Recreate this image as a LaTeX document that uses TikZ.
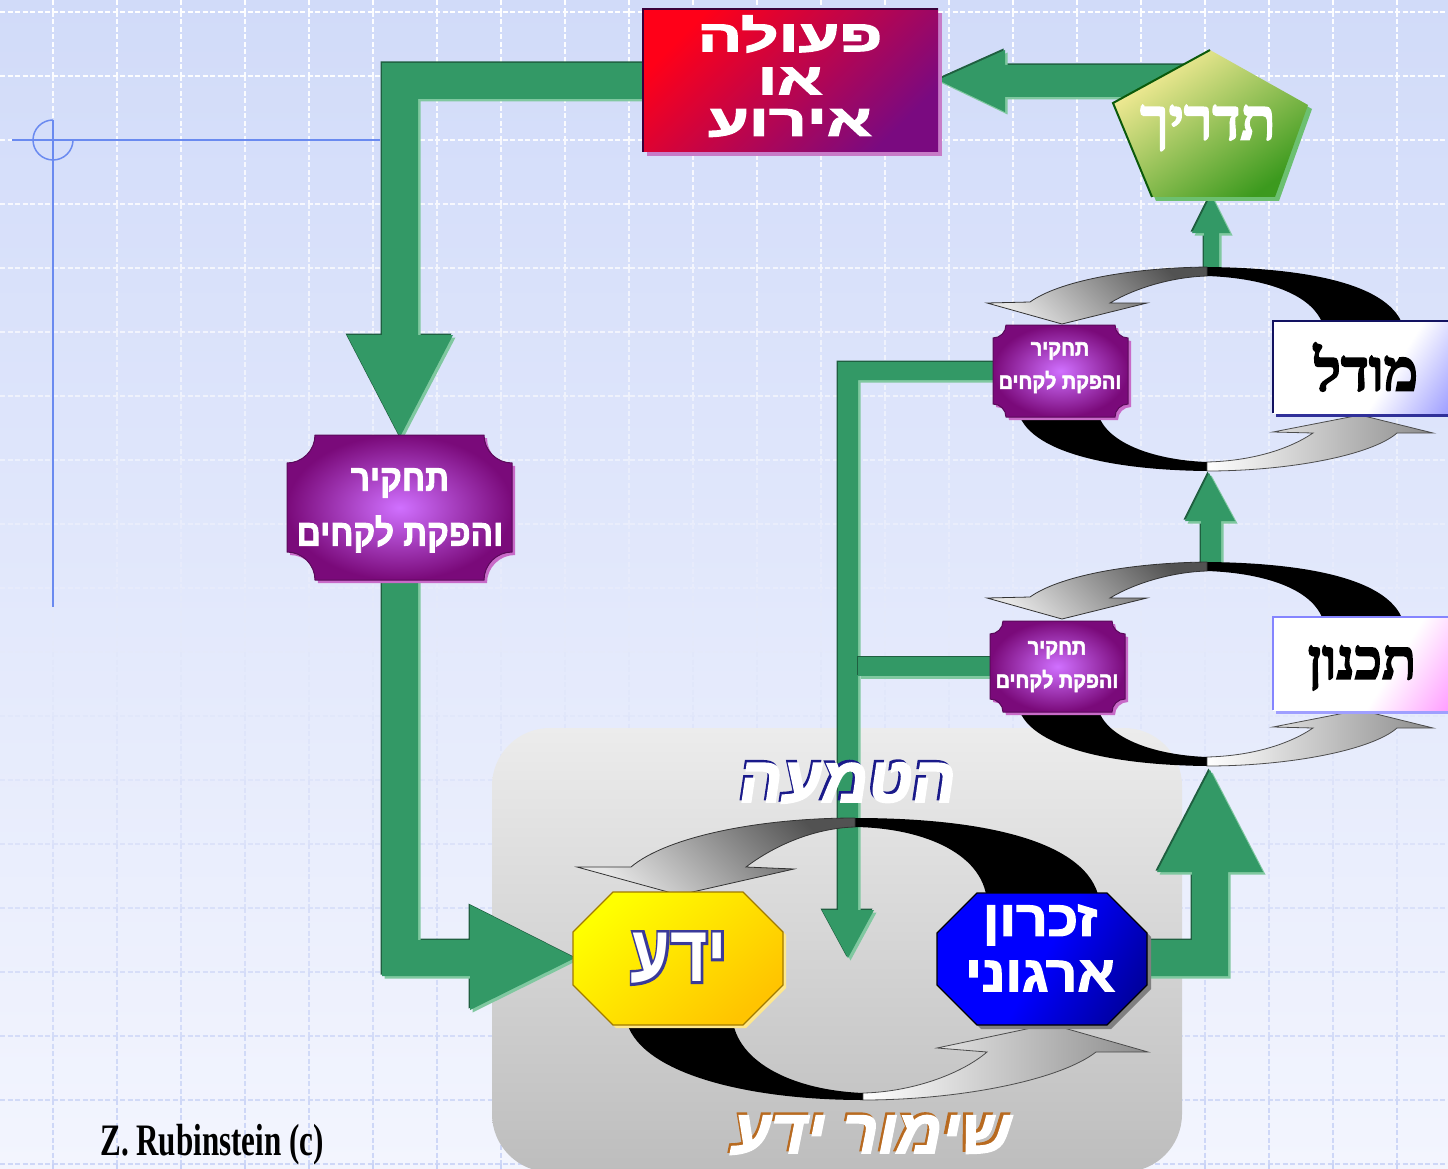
\documentclass[tikz,border=0pt]{standalone}
\usepackage{fontspec}
\usepackage{graphicx}
\TeXXeTstate=1
\newfontfamily\hebsans[Script=Hebrew]{Liberation Sans}
\newfontfamily\hebheavy[Script=Hebrew, FakeBold=2.5]{Liberation Sans}
\newfontfamily\hebout[Script=Hebrew, FakeBold=7]{Liberation Sans}
\newfontfamily\hebserif[Script=Hebrew, FakeBold=3]{Liberation Serif}
\newfontfamily\latserif{Liberation Serif}
\newcommand\heb[1]{\beginR#1\endR}
\definecolor{bgtop}{HTML}{D1DBF9}
\definecolor{bgbot}{HTML}{F3F5FE}
\definecolor{gridbot}{HTML}{C9D3F6}
\definecolor{crossc}{HTML}{6A8AF0}
\definecolor{grn}{HTML}{339966}
\definecolor{glight}{HTML}{80C8A0}
\definecolor{gdark}{HTML}{1F5F40}
\definecolor{redA}{HTML}{FF0018}
\definecolor{redB}{HTML}{7A0A80}
\definecolor{redS}{HTML}{C77BC7}
\definecolor{redE}{HTML}{3A003A}
\definecolor{penA}{HTML}{FBEE9A}
\definecolor{penB}{HTML}{3C9A1E}
\definecolor{penE}{HTML}{0B5A0B}
\definecolor{penS}{HTML}{6CC070}
\definecolor{purA}{HTML}{D070FF}
\definecolor{purB}{HTML}{7A0A7A}
\definecolor{purE}{HTML}{5A0A5A}
\definecolor{purS}{HTML}{C86AC8}
\definecolor{yelA}{HTML}{FFFF00}
\definecolor{yelB}{HTML}{FFC400}
\definecolor{yelE}{HTML}{A07A00}
\definecolor{yelS}{HTML}{FFE88A}
\definecolor{bluA}{HTML}{0000FF}
\definecolor{bluB}{HTML}{000050}
\definecolor{bluS}{HTML}{808080}
\definecolor{greyA}{HTML}{ECECEC}
\definecolor{greyB}{HTML}{BDBDBD}
\definecolor{modB}{HTML}{5050FF}
\definecolor{tikB}{HTML}{FF50FF}
\definecolor{navyT}{HTML}{1A1A8A}
\definecolor{ydaline}{HTML}{3A3A9A}
\definecolor{hA}{HTML}{4848F0}
\definecolor{hB}{HTML}{7878E8}
\definecolor{hC}{HTML}{C49CB4}
\definecolor{hD}{HTML}{E8B070}
\definecolor{hE}{HTML}{FFC040}
\definecolor{sA}{HTML}{3838F0}
\definecolor{sB}{HTML}{6A50E0}
\definecolor{sC}{HTML}{9A60D0}
\definecolor{sD}{HTML}{B070C0}
\definecolor{sE}{HTML}{E89060}
\definecolor{sF}{HTML}{F09A40}
\definecolor{sShadow}{HTML}{B86A20}
\pgfdeclarehorizontalshading{modelsh}{100bp}{color(0bp)=(white); color(58bp)=(white); color(100bp)=(modB)}
\pgfdeclarehorizontalshading{tiksh}{100bp}{color(0bp)=(white); color(58bp)=(white); color(100bp)=(tikB)}
\pgfdeclarehorizontalshading{blush}{100bp}{color(0bp)=(bluA); color(50bp)=(bluA); color(100bp)=(bluB)}
\tikzset{
  gridl/.style={line width=1.4pt, dash pattern=on 5pt off 2.5pt},
  crossl/.style={draw=crossc, line width=1.5pt},
  txt/.style={inner sep=0pt, outer sep=0pt},
  wtxt/.style={txt, text=white},
  topgrey/.style={top color=black!68, bottom color=black!10, shading angle=-45, draw=black!80, line width=0.8pt},
  botgrey/.style={left color=white, right color=black!45, draw=black!70, line width=0.8pt},
}
\newcommand\garrow[1]{%
  \fill[gdark, shift={(-1.5,-1.5)}] #1;
  \fill[glight, shift={(2.5,2.5)}] #1;
  \fill[grn] #1;}
\newcommand\plaque[6]{% x1 y1 x2 y2 r options
  \pgfmathsetmacro\pa{#1+#5}\pgfmathsetmacro\pb{#3-#5}%
  \pgfmathsetmacro\pc{#2+#5}\pgfmathsetmacro\pd{#4-#5}%
  \pgfmathsetmacro\ka{0.55*#5}%
  \path[#6] (\pa,#2) -- (\pb,#2) .. controls (\pb,#2+\ka) and (#3-\ka,\pc) .. (#3,\pc)
    -- (#3,\pd) .. controls (#3-\ka,\pd) and (\pb,#4-\ka) .. (\pb,#4)
    -- (\pa,#4) .. controls (\pa,#4-\ka) and (#1+\ka,\pd) .. (#1,\pd)
    -- (#1,\pc) .. controls (#1+\ka,\pc) and (\pa,#2+\ka) .. (\pa,#2) -- cycle;}
\newcommand\octa[6]{% x1 y1 x2 y2 c options
  \path[#6] (#1+#5,#2) -- (#3-#5,#2) -- (#3,#2+#5) -- (#3,#4-#5) -- (#3-#5,#4)
    -- (#1+#5,#4) -- (#1,#4-#5) -- (#1,#2+#5) -- cycle;}
\begin{document}
\begin{tikzpicture}[x=1pt,y=-1pt]
\useasboundingbox (0,0) rectangle (1448,1169);
% background
\shade[top color=bgtop, bottom color=bgbot] (0,0) rectangle (1448,1169);
% grid
\foreach \k in {0,...,18}{
  \pgfmathtruncatemacro\p{100-5*\k}
  \pgfmathsetmacro\yy{12+64*\k}
  \draw[gridl, draw=white!\p!gridbot] (0,\yy) -- (1448,\yy);
  \foreach \j in {0,...,21}{
    \draw[gridl, draw=white!\p!gridbot] ({53+64*\j},{\yy-64}) -- ({53+64*\j},\yy);
  }
}
\foreach \j in {0,...,21}{\draw[gridl, draw=gridbot] ({53+64*\j},1164) -- ({53+64*\j},1172);}
% crosshair
\draw[crossl] (12,140) -- (380,140);
\draw[crossl] (53,120) -- (53,607);
\draw[crossl] (53,120) .. controls (42,120) and (33,129) .. (33,140)
  .. controls (33,151) and (42,160) .. (53,160) .. controls (64,160) and (73,151) .. (73,140);
% grey box
\shade[top color=greyA, bottom color=greyB, rounded corners=58pt] (492,728) rectangle (1182,1172);
% green arrows
\garrow{(1185,65) -- (1005,65) -- (1005,50) -- (938,80) -- (1005,112) -- (1005,97) -- (1185,97) -- cycle}
\garrow{(645,63) -- (382,63) -- (382,335) -- (347,335) -- (400,437) -- (453,335) -- (418,335) -- (418,99) -- (645,99) -- cycle}
\garrow{(382,575) -- (382,976) -- (470,976) -- (470,1010) -- (575,958) -- (470,905) -- (470,940) -- (418,940) -- (418,575) -- cycle}
\garrow{(995,362) -- (838,362) -- (838,910) -- (822,910) -- (848,958) -- (874,910) -- (858,910) -- (858,380) -- (995,380) -- cycle}
\garrow{(858,657) -- (992,657) -- (992,676) -- (858,676) -- cycle}
\garrow{(1204,272) -- (1204,233) -- (1192,233) -- (1211,195) -- (1230,233) -- (1219,233) -- (1219,272) -- cycle}
\garrow{(1201,565) -- (1201,521) -- (1185,521) -- (1209,473) -- (1235,521) -- (1221,521) -- (1221,565) -- cycle}
\garrow{(1145,940) -- (1192,940) -- (1192,872) -- (1157,872) -- (1210,770) -- (1263,872) -- (1228,872) -- (1228,976) -- (1145,976) -- cycle}
% small cycles
\foreach \dy in {0,295}{
\begin{scope}[shift={(0,\dy)}]
\fill[black] (1405,335) .. controls (1400,285) and (1310,268) .. (1207,267) -- (1207,276) .. controls (1265,278) and (1322,295) .. (1325,335) -- cycle;
\shade[topgrey] (1207,267) .. controls (1125,268) and (1058,282) .. (1030,302) -- (987,303) -- (1062,324) -- (1147,303) -- (1110,303) .. controls (1135,288) and (1172,277) .. (1207,276) -- cycle;
\fill[black] (1017,405) .. controls (1020,450) and (1105,470) .. (1207,471) -- (1207,462) .. controls (1150,460) and (1097,440) .. (1097,405) -- cycle;
\shade[botgrey] (1207,471) .. controls (1290,471) and (1372,455) .. (1397,433) -- (1433,433) -- (1360,415) -- (1273,432) -- (1313,433) .. controls (1288,450) and (1250,461) .. (1207,462) -- cycle;
\end{scope}
}
% big cycle
\fill[black] (1100,905) .. controls (1095,845) and (995,818) .. (855,818) -- (855,827) .. controls (925,828) and (987,855) .. (987,905) -- cycle;
\shade[topgrey] (855,818) .. controls (755,818) and (665,838) .. (631,867) -- (577,867) -- (679,895) -- (794,869) -- (746,867) .. controls (775,845) and (815,828) .. (855,827) -- cycle;
\fill[black] (625,1012) .. controls (628,1070) and (740,1100) .. (863,1100) -- (863,1093) .. controls (790,1090) and (732,1060) .. (732,1012) -- cycle;
\shade[botgrey] (863,1100) .. controls (960,1100) and (1060,1080) .. (1096,1052) -- (1148,1052) -- (1050,1024) -- (937,1048) -- (987,1052) .. controls (960,1075) and (910,1092) .. (863,1093) -- cycle;
% red box
\fill[redS] (647,13) rectangle (942,156);
\shade[top color=redA, bottom color=redB, shading angle=45] (643,9) rectangle (938,152);
\draw[redE, line width=2pt] (643,152) -- (643,9) -- (938,9);
% pentagon
\fill[penS] (1214,54) -- (1312,109) -- (1279,201) -- (1156,201) -- (1117,107) -- cycle;
\shade[top color=penA, bottom color=penB, shading angle=35] (1210,50) -- (1308,105) -- (1275,197) -- (1152,197) -- (1113,103) -- cycle;
\draw[penE, line width=2pt] (1152,197) -- (1113,103) -- (1210,50);
% purple plaques
\plaque{290}{438}{515}{583}{28}{fill=purS}
\plaque{287}{435}{512}{580}{28}{inner color=purA, outer color=purB, draw=purE, line width=1pt}
\plaque{996}{328}{1131}{420}{13}{fill=purS}
\plaque{993}{325}{1128}{417}{13}{inner color=purA, outer color=purB, draw=purE, line width=1pt}
\plaque{993}{624}{1128}{715}{13}{fill=purS}
\plaque{990}{621}{1125}{712}{13}{inner color=purA, outer color=purB, draw=purE, line width=1pt}
% model / planning boxes
\fill[black!40!modB] (1276,324) rectangle (1460,417);
\shade[shading=modelsh, shading angle=-32] (1273,321) rectangle (1460,413);
\draw[navyT!70!black, line width=1.5pt] (1273,413) -- (1273,321) -- (1460,321);
\fill[modB!55] (1276,620) rectangle (1460,714);
\shade[shading=tiksh, shading angle=-32] (1273,617) rectangle (1460,710);
\draw[modB!70, line width=1.5pt] (1273,710) -- (1273,617) -- (1460,617);
% octagons
\octa{576}{895}{786}{1028}{40}{fill=yelS}
\octa{573}{892}{783}{1025}{40}{top color=yelA, bottom color=yelB, shading angle=40, draw=yelE, line width=1.2pt}
\octa{941}{897}{1151}{1029}{40}{fill=bluS}
\octa{937}{893}{1147}{1025}{40}{shading=blush, shading angle=-30, draw=black, line width=1.2pt}
% texts
\node[wtxt, font=\hebheavy\bfseries\fontsize{44}{44}\selectfont] (actA) at (790,34) {\scalebox{1.5}[1]{\heb{פעולה}}};
\node[wtxt, font=\hebheavy\bfseries\fontsize{44}{44}\selectfont] (actB) at (790,81) {\scalebox{1.5}[1]{\heb{או}}};
\node[wtxt, font=\hebheavy\bfseries\fontsize{44}{44}\selectfont] (actC) at (790,123) {\scalebox{1.5}[1]{\heb{אירוע}}};
\node[wtxt, font=\hebserif\bfseries\fontsize{58}{58}\selectfont] (brief) at (1208,128) {\heb{תדריך}};
\node[txt, font=\hebserif\bfseries\fontsize{58}{58}\selectfont] (model) at (1366,367) {\heb{מודל}};
\node[txt, font=\hebserif\bfseries\fontsize{56}{56}\selectfont] (plan) at (1362,668) {\heb{תכנון}};
\node[wtxt, font=\hebheavy\bfseries\fontsize{37}{37}\selectfont] (bigA) at (400,483) {\scalebox{0.9}[1]{\heb{תחקיר}}};
\node[wtxt, font=\hebheavy\bfseries\fontsize{37}{37}\selectfont] (bigB) at (400,534) {\scalebox{0.9}[1]{\heb{והפקת לקחים}}};
\node[wtxt, font=\hebheavy\bfseries\fontsize{22}{22}\selectfont] (smAa) at (1060,351) {\scalebox{0.9}[1]{\heb{תחקיר}}};
\node[wtxt, font=\hebheavy\bfseries\fontsize{22}{22}\selectfont] (smAb) at (1060,382) {\scalebox{0.9}[1]{\heb{והפקת לקחים}}};
\node[wtxt, font=\hebheavy\bfseries\fontsize{22}{22}\selectfont] (smBa) at (1057,650) {\scalebox{0.9}[1]{\heb{תחקיר}}};
\node[wtxt, font=\hebheavy\bfseries\fontsize{22}{22}\selectfont] (smBb) at (1057,681) {\scalebox{0.9}[1]{\heb{והפקת לקחים}}};
\node[wtxt, font=\hebheavy\bfseries\fontsize{50}{50}\selectfont] (memA) at (1040,925) {\scalebox{1.1}[1]{\heb{זכרון}}};
\node[wtxt, font=\hebheavy\bfseries\fontsize{50}{50}\selectfont] (memB) at (1040,976) {\scalebox{1.1}[1]{\heb{ארגוני}}};
\node[txt, text=ydaline, font=\hebout\bfseries\fontsize{80}{80}\selectfont] (ydaO) at (679,958) {\scalebox{0.8}[1]{\heb{ידע}}};
\node[wtxt, font=\hebsans\bfseries\fontsize{80}{80}\selectfont] (yda) at (679,958) {\scalebox{0.8}[1]{\heb{ידע}}};
% hatmaa
\begin{scope}[shift={(848,783)}, xslant=0.15]
\node[txt, transform shape, text=navyT, font=\hebheavy\bfseries\fontsize{64}{64}\selectfont] (htN) at (-2.5,-2.5) {\heb{הטמעה}};
\node[txt, transform shape, font=\hebheavy\bfseries\fontsize{64}{64}\selectfont] (ht) at (0,0) {\heb{{\color{hA}ה}{\color{hB}ט}{\color{hC}מ}{\color{hD}ע}{\color{hE}ה}}};
\end{scope}
% shimur yeda
\begin{scope}[shift={(872,1135)}, xslant=0.2]
\node[txt, transform shape, text=sShadow, font=\hebheavy\bfseries\fontsize{62}{62}\selectfont] (shS) at (-3,-2.5) {\heb{שימור ידע}};
\node[txt, transform shape, font=\hebheavy\bfseries\fontsize{62}{62}\selectfont] (sh) at (0,0) {\heb{{\color{sA}ש}{\color{sB}י}{\color{sC}מ}{\color{sD}ו}{\color{sE}ר} {\color{sF}ידע}}};
\end{scope}
\node[txt, font=\latserif\bfseries\fontsize{45}{45}\selectfont] (author) at (212,1145) {\scalebox{0.69}[1]{Z. Rubinstein (c)}};
\end{tikzpicture}
\end{document}
